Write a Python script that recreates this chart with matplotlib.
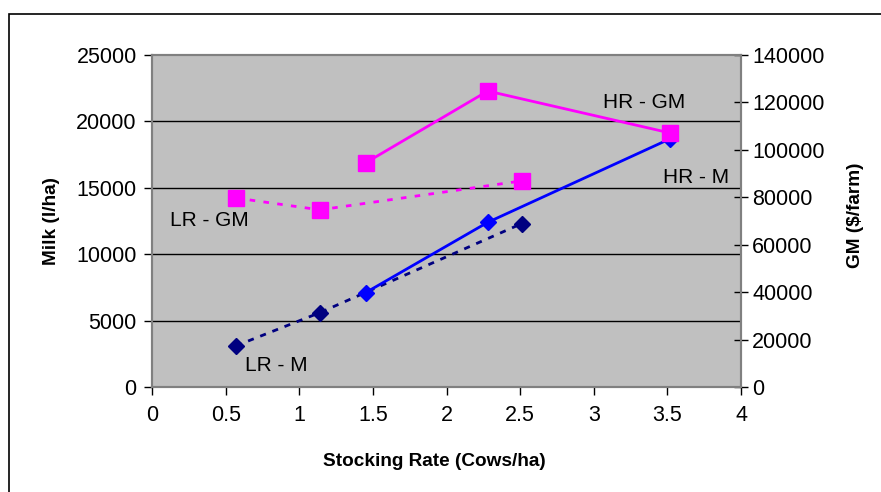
import matplotlib.pyplot as plt
from matplotlib.patches import Rectangle

plt.rcParams['font.family'] = ['Liberation Sans', 'DejaVu Sans']

# stocking rate (cows/ha)
hr_x = [1.45, 2.28, 3.52]
lr_x = [0.57, 1.14, 2.51]

# milk (l/ha)
hr_milk = [7100, 12400, 18700]
lr_milk = [3100, 5600, 12300]

# gross margin ($/farm)
hr_gm = [94500, 124800, 107100]
lr_gm = [79700, 74700, 86900]

x_ticks = [0, 0.5, 1, 1.5, 2, 2.5, 3, 3.5, 4]
x_labels = ['0', '0.5', '1', '1.5', '2', '2.5', '3', '3.5', '4']
milk_ticks = [0, 5000, 10000, 15000, 20000, 25000]
gm_ticks = [0, 20000, 40000, 60000, 80000, 100000, 120000, 140000]

W, H = 881, 492
fig = plt.figure(figsize=(W / 100, H / 100), dpi=100)
fig.patches.append(Rectangle((9 / W, -0.1), 1.2, 1 - 14 / H + 0.1,
                             transform=fig.transFigure, fill=False,
                             edgecolor='black', linewidth=1.2))

ax = fig.add_axes([152 / W, 1 - 387 / H, 589 / W, 332 / H])
ax.set_facecolor('#C0C0C0')
for s in ax.spines.values():
    s.set_color('#808080')
    s.set_linewidth(1.5)

ax.set_xlim(0, 4)
ax.set_ylim(0, 25000)
ax.set_xticks(x_ticks)
ax.set_xticklabels(x_labels)
ax.set_yticks(milk_ticks)
ax.set_yticklabels([str(v) for v in milk_ticks])
for v in milk_ticks[1:-1]:
    ax.axhline(v, color='black', linewidth=1, zorder=1)
ax.tick_params(axis='both', labelsize=15.5, length=6, width=1, color='black')
ax.tick_params(axis='x', pad=7)
ax.tick_params(axis='y', pad=5)

ax.plot(lr_x, lr_milk, color='#000080', linestyle=(0, (2.2, 2.5)), linewidth=2,
        marker='D', markersize=8.5, zorder=3)
ax.plot(hr_x, hr_milk, color='#0000FF', linewidth=2,
        marker='D', markersize=8.5, zorder=4)

ax2 = ax.twinx()
ax2.set_ylim(0, 140000)
ax2.set_yticks(gm_ticks)
ax2.set_yticklabels([str(v) for v in gm_ticks])
ax2.tick_params(axis='y', labelsize=15.5, length=10, width=1, direction='inout', pad=3)
for s in ax2.spines.values():
    s.set_color('#808080')
    s.set_linewidth(1.5)

ax2.plot(lr_x, lr_gm, color='#FF00FF', linestyle=(0, (2, 3)), linewidth=2,
         marker='s', markersize=11, zorder=3)
ax2.plot(hr_x, hr_gm, color='#FF00FF', linewidth=2,
         marker='s', markersize=11, zorder=4)

ax.text(3.06, 21400, 'HR - GM', fontsize=15, va='center', zorder=5)
ax.text(3.47, 15800, 'HR - M', fontsize=15, va='center', zorder=5)
ax.text(0.12, 12500, 'LR - GM', fontsize=15, va='center', zorder=5)
ax.text(0.63, 1650, 'LR - M', fontsize=15, va='center', zorder=5)

# axis titles
fig.text(434 / W, 1 - 461 / H, 'Stocking Rate (Cows/ha)', fontsize=13.7,
         fontweight='bold', ha='center', va='center')
fig.text(51 / W, 1 - 221 / H, 'Milk (l/ha)', fontsize=13.7, fontweight='bold',
         rotation=90, ha='center', va='center')
fig.text(856 / W, 1 - 215 / H, 'GM ($/farm)', fontsize=13.7, fontweight='bold',
         rotation=90, ha='center', va='center')

fig.savefig('out.png', dpi=100)
